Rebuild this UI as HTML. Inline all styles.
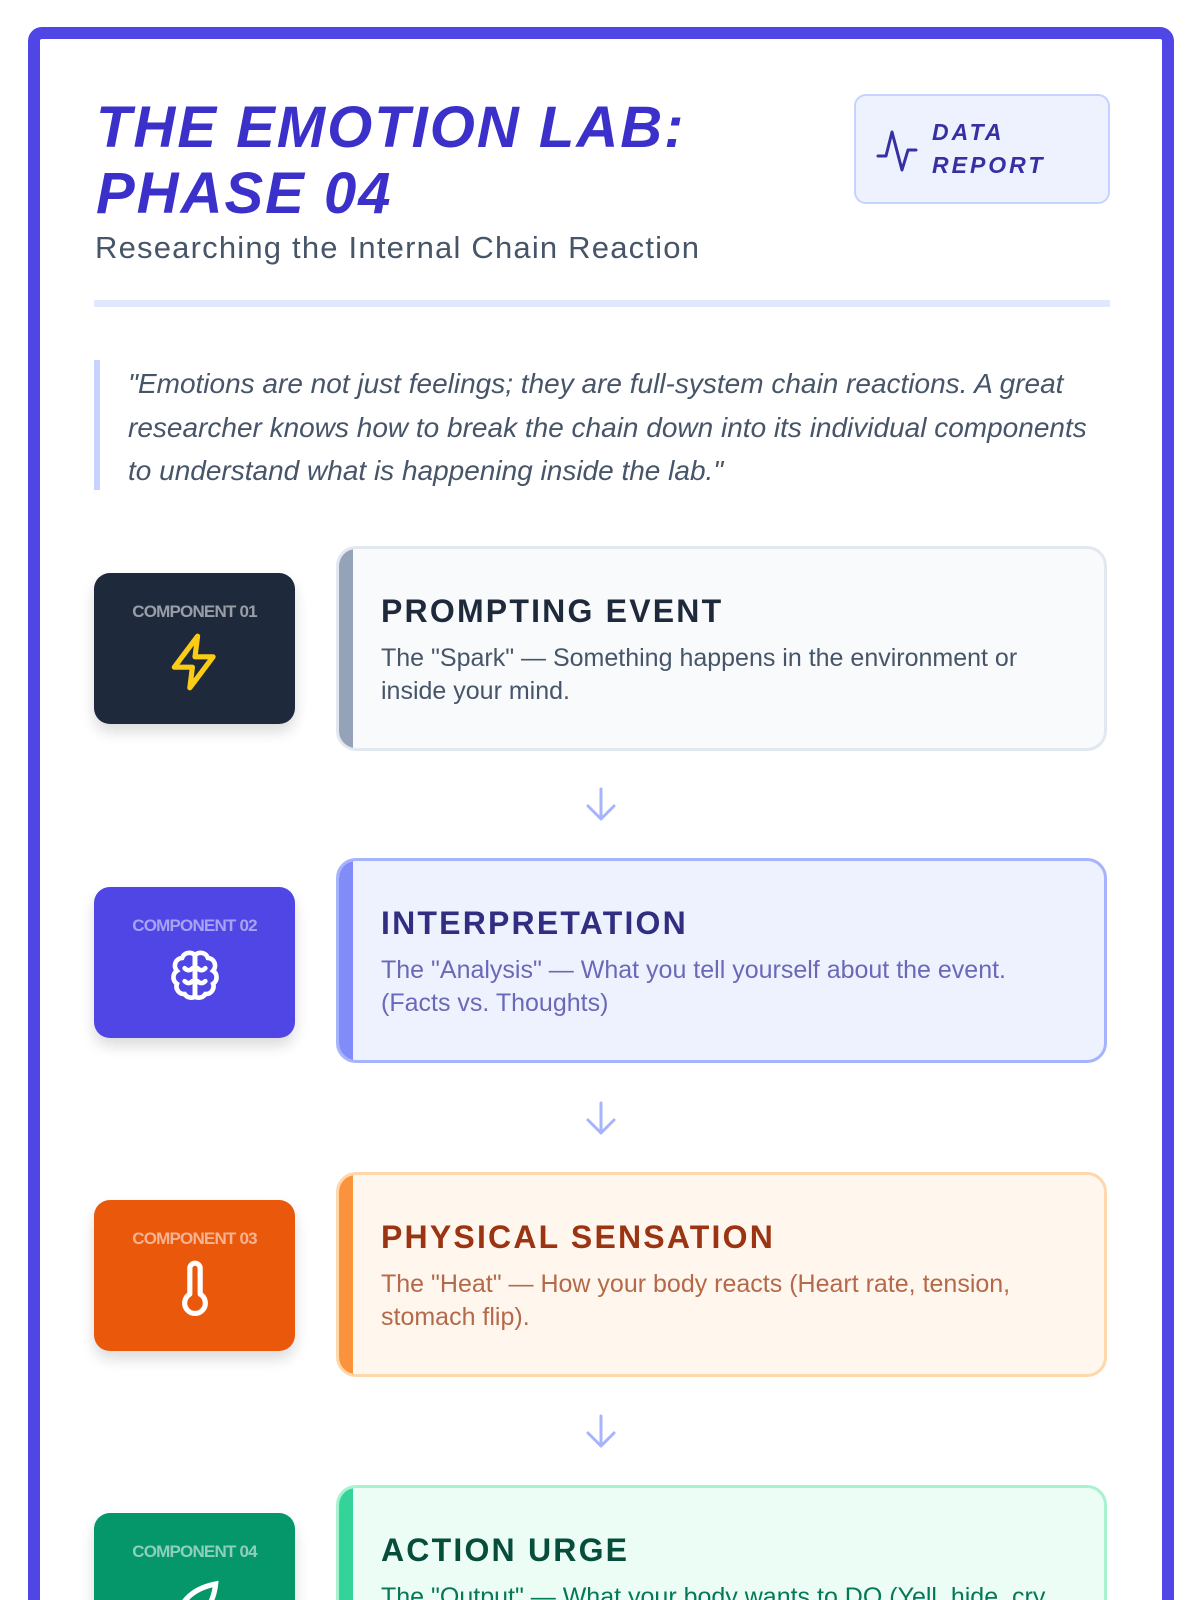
<!DOCTYPE html>
<html><head><meta charset="utf-8"><style>
*{margin:0;padding:0;box-sizing:border-box}
html,body{width:1200px;height:1600px;overflow:hidden}
body{background:#fff;font-family:"Liberation Sans",sans-serif}
.wrap{position:relative;width:1200px;height:1600px;overflow:hidden}
.frame{position:absolute;left:28px;top:27px;width:1146px;height:1700px;border:12px solid #4f46e5;border-radius:14px}
.abs{position:absolute}
.title{left:96px;top:95px;font-size:58px;line-height:66px;font-weight:900;font-style:italic;color:#3b30c9;letter-spacing:2px}
.sub{left:95px;top:230px;font-size:31px;color:#475569;letter-spacing:1.2px}
.div{left:94px;top:300px;width:1016px;height:7px;background:#e0e7ff}
.badge{left:854px;top:94px;width:256px;height:110px;background:#eef2ff;border:2px solid #c7d2fe;border-radius:12px}
.badge span{position:absolute;left:76px;top:20px;font-size:23px;line-height:33px;font-weight:bold;font-style:italic;letter-spacing:3px;color:#3730a3}
.qbar{left:94px;top:360px;width:6px;height:130px;background:#c7d2fe}
.quote{left:128px;top:362px;width:975px;font-size:28px;line-height:43.5px;font-style:italic;color:#475569}
.tile{position:absolute;left:94px;width:201px;height:151px;border-radius:16px;box-shadow:0 8px 14px rgba(0,0,0,.14);text-align:center}
.tile .lab{position:absolute;top:29px;left:0;right:0;font-size:17px;font-weight:bold;letter-spacing:-0.8px;color:rgba(255,255,255,.55)}
.tile svg{position:absolute;left:70px;top:58px}
.card{position:absolute;left:336px;width:771px;height:205px;border:3px solid;border-radius:20px;overflow:hidden}
.card .bar{position:absolute;left:0;top:0;bottom:0;width:14px}
.card h2{position:absolute;left:42px;top:44px;font-size:32px;font-weight:900;letter-spacing:2.2px}
.card p{position:absolute;left:42px;top:93px;width:680px;font-size:25px;line-height:33px}
.arrow{position:absolute;left:582px}
</style></head><body><div class="wrap">
<div class="frame"></div>
<div class="abs title">THE EMOTION LAB:<br>PHASE 04</div>
<div class="abs sub">Researching the Internal Chain Reaction</div>
<div class="abs badge"><svg class="abs" style="left:20px;top:30px" width="44" height="48" viewBox="0 0 44 48"><polyline points="2,30 10,30 16,6 26,44 32,24 40,24" fill="none" stroke="#3730a3" stroke-width="3" stroke-linejoin="round" stroke-linecap="round"/></svg><span>DATA<br>REPORT</span></div>
<div class="abs div"></div>
<div class="abs qbar"></div>
<div class="abs quote">"Emotions are not just feelings; they are full-system chain reactions. A great researcher knows how to break the chain down into its individual components to understand what is happening inside the lab."</div>

<div class="tile" style="top:573px;background:#1e293b"><div class="lab">COMPONENT 01</div>
<svg width="62" height="62" viewBox="0 0 24 24"><path d="M13 2L4 14h7l-1 8 9-12h-7z" fill="none" stroke="#facc15" stroke-width="2" stroke-linejoin="round"/></svg></div>
<div class="card" style="top:546px;background:#f8fafc;border-color:#e2e8f0"><div class="bar" style="background:#94a3b8"></div><h2 style="color:#1e293b">PROMPTING EVENT</h2><p style="color:#475569">The "Spark" — Something happens in the environment or inside your mind.</p></div>
<svg class="arrow" style="top:786px" width="38" height="38" viewBox="0 0 38 38"><path d="M19 3v30M6 20l13 13 13-13" fill="none" stroke="#a5b4fc" stroke-width="3" stroke-linecap="round" stroke-linejoin="round"/></svg>

<div class="tile" style="top:887px;background:#4f46e5"><div class="lab" style="color:rgba(255,255,255,.5)">COMPONENT 02</div>
<svg width="62" height="62" viewBox="0 0 24 24"><g fill="none" stroke="#fff" stroke-width="1.8" stroke-linecap="round"><path d="M12 4a3 3 0 0 0-5 1 3 3 0 0 0-2 5 3 3 0 0 0 0 5 3 3 0 0 0 3 4 3 3 0 0 0 4 1z"/><path d="M12 4a3 3 0 0 1 5 1 3 3 0 0 1 2 5 3 3 0 0 1 0 5 3 3 0 0 1-3 4 3 3 0 0 1-4 1z"/><path d="M12 4v16M8 9c1 1 2 1 3 0M16 9c-1 1-2 1-3 0M8 14c1 1 2 1 3 0M16 14c-1 1-2 1-3 0"/></g></svg></div>
<div class="card" style="top:858px;background:#eef2ff;border-color:#a5b4fc"><div class="bar" style="background:#818cf8"></div><h2 style="color:#312e81">INTERPRETATION</h2><p style="color:#6b68b8">The "Analysis" — What you tell yourself about the event. (Facts vs. Thoughts)</p></div>
<svg class="arrow" style="top:1100px" width="38" height="38" viewBox="0 0 38 38"><path d="M19 3v30M6 20l13 13 13-13" fill="none" stroke="#a5b4fc" stroke-width="3" stroke-linecap="round" stroke-linejoin="round"/></svg>

<div class="tile" style="top:1200px;background:#ea580c"><div class="lab">COMPONENT 03</div>
<svg width="62" height="62" viewBox="0 0 24 24"><path d="M10 4a2 2 0 0 1 4 0v10a4 4 0 1 1-4 0z" fill="none" stroke="#fff" stroke-width="2" stroke-linejoin="round"/></svg></div>
<div class="card" style="top:1172px;background:#fff7ed;border-color:#fed7aa"><div class="bar" style="background:#fb923c"></div><h2 style="color:#9a3412">PHYSICAL SENSATION</h2><p style="color:#b4694a">The "Heat" — How your body reacts (Heart rate, tension, stomach flip).</p></div>
<svg class="arrow" style="top:1413px" width="38" height="38" viewBox="0 0 38 38"><path d="M19 3v30M6 20l13 13 13-13" fill="none" stroke="#a5b4fc" stroke-width="3" stroke-linecap="round" stroke-linejoin="round"/></svg>

<div class="tile" style="top:1513px;background:#059669"><div class="lab">COMPONENT 04</div>
<svg width="62" height="62" viewBox="0 0 24 24"><path d="M5 21c0-8 5-14 15-16-1 9-6 14-13 14M5 21l8-8" fill="none" stroke="#fff" stroke-width="2" stroke-linecap="round"/></svg></div>
<div class="card" style="top:1485px;background:#ecfdf5;border-color:#a7f3d0"><div class="bar" style="background:#34d399"></div><h2 style="color:#064e3b">ACTION URGE</h2><p style="color:#047857">The "Output" — What your body wants to DO (Yell, hide, cry, run).</p></div>
</div></body></html>
